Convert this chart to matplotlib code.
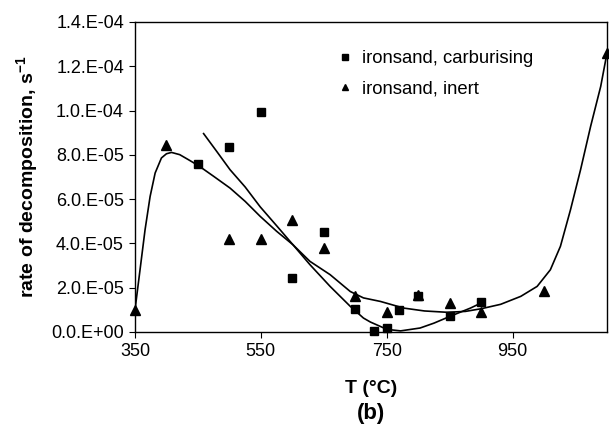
#!/usr/bin/env python3
"""
Rate of decomposition vs temperature, ironsand (b)
"""

import matplotlib
matplotlib.use('Agg')
import matplotlib.pyplot as plt

plt.rcParams['font.family'] = ['Liberation Sans', 'DejaVu Sans']
plt.rcParams['mathtext.fontset'] = 'custom'
plt.rcParams['mathtext.rm'] = 'Liberation Sans'
plt.rcParams['mathtext.bf'] = 'Liberation Sans:bold'

# carburising atmosphere (squares)
carb_T = [450, 500, 550, 600, 650, 700, 730, 750, 770, 800, 850, 900]
carb_rate = [7.57e-5, 8.35e-5, 9.94e-5, 2.42e-5, 4.52e-5, 1.04e-5,
             0.05e-5, 0.2e-5, 0.98e-5, 1.64e-5, 0.74e-5, 1.34e-5]

# inert atmosphere (triangles)
inert_T = [350, 400, 500, 550, 600, 650, 700, 750, 800, 850, 900, 1000, 1100]
inert_rate = [1.0e-5, 8.46e-5, 4.2e-5, 4.2e-5, 5.07e-5, 3.8e-5, 1.64e-5,
              0.9e-5, 1.67e-5, 1.31e-5, 0.9e-5, 1.85e-5, 1.26e-4]

# trend curves
inert_fit_T = [350, 358, 366, 374, 382, 392, 400, 408, 421, 435, 451, 475,
               501, 525, 549, 575, 601, 628, 660, 692, 713, 740, 777, 810,
               846, 875, 900, 931, 963, 989, 1010, 1026, 1042, 1058, 1074,
               1090, 1100]
inert_fit_rate = [1.0e-5, 2.81e-5, 4.62e-5, 6.12e-5, 7.18e-5, 7.86e-5,
                  8.05e-5, 8.11e-5, 8.01e-5, 7.78e-5, 7.51e-5, 7.03e-5,
                  6.5e-5, 5.9e-5, 5.22e-5, 4.55e-5, 3.94e-5, 3.19e-5,
                  2.59e-5, 1.83e-5, 1.54e-5, 1.38e-5, 1.08e-5, 0.95e-5,
                  0.89e-5, 0.93e-5, 1.05e-5, 1.25e-5, 1.61e-5, 2.06e-5,
                  2.81e-5, 3.87e-5, 5.52e-5, 7.33e-5, 9.29e-5, 11.09e-5,
                  12.6e-5]

carb_fit_T = [459, 480, 501, 525, 549, 575, 601, 628, 660, 692, 713, 724,
              740, 750, 772, 803, 825, 850, 883, 900]
carb_fit_rate = [8.96e-5, 8.15e-5, 7.33e-5, 6.55e-5, 5.65e-5, 4.8e-5,
                 3.94e-5, 3.04e-5, 2.06e-5, 1.16e-5, 0.63e-5, 0.45e-5,
                 0.25e-5, 0.12e-5, 0.05e-5, 0.18e-5, 0.4e-5, 0.7e-5,
                 1.08e-5, 1.31e-5]

y_ticks = [0, 2e-5, 4e-5, 6e-5, 8e-5, 1e-4, 1.2e-4, 1.4e-4]
y_ticklabels = ['0.0.E+00', '2.0.E-05', '4.0.E-05', '6.0.E-05',
                '8.0.E-05', '1.0.E-04', '1.2.E-04', '1.4.E-04']
x_ticks = [350, 550, 750, 950]

fig = plt.figure(figsize=(6.09, 4.25), dpi=100)
ax = fig.add_axes([135 / 609, 1 - 332 / 425, 472 / 609, 310 / 425])

ax.plot(inert_fit_T, inert_fit_rate, color='black', lw=1.2)
ax.plot(carb_fit_T, carb_fit_rate, color='black', lw=1.2)

ax.plot(carb_T, carb_rate, 's', color='black', ms=6, clip_on=False,
        label='ironsand, carburising')
ax.plot(inert_T, inert_rate, '^', color='black', ms=7, clip_on=False,
        label='ironsand, inert')

ax.set_xlim(350, 1100)
ax.set_ylim(0, 1.4e-4)
ax.set_xticks(x_ticks)
ax.set_yticks(y_ticks)
ax.set_yticklabels(y_ticklabels)
ax.tick_params(labelsize=13, direction='out', length=4, pad=4)
for s in ax.spines.values():
    s.set_linewidth(1.0)

ax.set_xlabel('T (°C)', fontsize=14, fontweight='bold', labelpad=14)
ax.set_ylabel('rate of decomposition, s$^{\\mathbf{-1}}$', fontsize=14,
              fontweight='bold', labelpad=7)
fig.text(0.5 * (135 + 607) / 609, 1 - 413 / 425, '(b)', fontsize=16,
         fontweight='bold', ha='center', va='center')

ax.legend(loc='upper left', bbox_to_anchor=(0.39, 0.962), frameon=False,
          fontsize=13.3, handletextpad=0.45, markerscale=0.7,
          labelspacing=0.7, handlelength=1.0)

plt.savefig('out.png', dpi=100)
plt.close()
